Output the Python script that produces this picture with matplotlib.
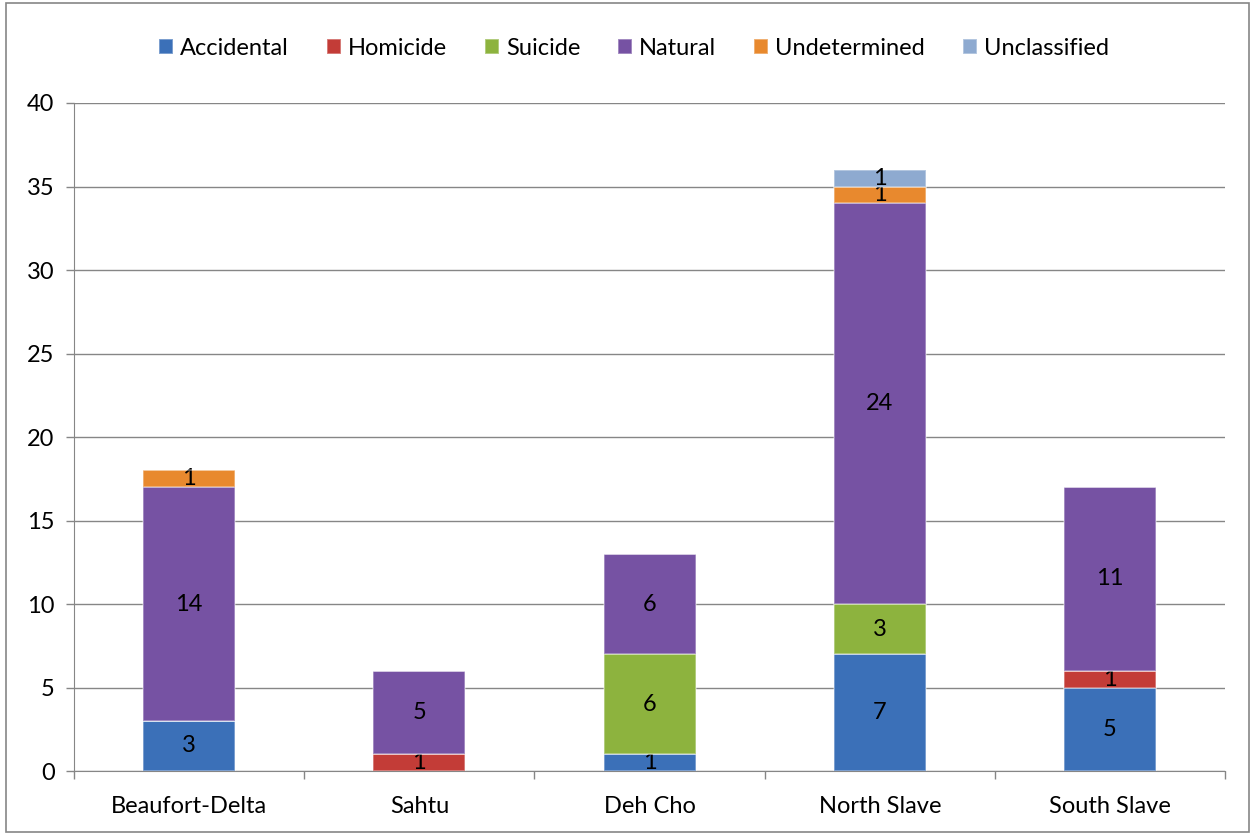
import matplotlib.pyplot as plt
import numpy as np
from matplotlib.patches import Rectangle

regions = ['Beaufort-Delta', 'Sahtu', 'Deh Cho', 'North Slave', 'South Slave']
accidental = [3, 0, 1, 7, 5]
homicide = [0, 1, 0, 0, 1]
suicide = [0, 0, 6, 3, 0]
natural = [14, 5, 6, 24, 11]
undetermined = [1, 0, 0, 1, 0]
unclassified = [0, 0, 0, 1, 0]

series = [('Accidental', accidental, '#3b70b8'),
          ('Homicide', homicide, '#c33c37'),
          ('Suicide', suicide, '#8db33e'),
          ('Natural', natural, '#7652a3'),
          ('Undetermined', undetermined, '#e8892e'),
          ('Unclassified', unclassified, '#8eaad0')]

plt.rcParams['font.family'] = ['Lato', 'DejaVu Sans']
fs = 17

fig = plt.figure(figsize=(12.53, 8.34), dpi=100)
ax = fig.add_axes([0.0591, 0.0755, 0.9186, 0.801])

x = np.arange(len(regions))
bottom = np.zeros(len(regions))
handles = []
for name, vals, col in series:
    vals = np.array(vals, dtype=float)
    bars = ax.bar(x, vals, 0.4, bottom=bottom, color=col, edgecolor='#ffffff66',
                  linewidth=1.2, zorder=3)
    labels = [str(int(v)) if v > 0 else '' for v in vals]
    ax.bar_label(bars, labels=labels, label_type='center', fontsize=fs, color='black')
    handles.append(bars)
    bottom += vals

ax.set_xlim(-0.5, len(regions) - 0.5)
ax.set_ylim(0, 40)
ax.set_yticks(np.arange(0, 41, 5))
ax.yaxis.grid(True, color='#868686', linewidth=1.0, zorder=0)
ax.set_xticks(x)
ax.set_xticklabels(regions)
ax.set_xticks(np.arange(-0.5, len(regions), 1), minor=True)
ax.tick_params(axis='x', which='major', length=0, pad=18, labelsize=fs)
ax.tick_params(axis='x', which='minor', length=6, color='#868686', width=1)
ax.tick_params(axis='y', length=6, color='#868686', width=1, labelsize=fs, pad=8)
for s in ['top', 'right']:
    ax.spines[s].set_visible(False)
for s in ['left', 'bottom']:
    ax.spines[s].set_color('#868686')

fig.legend([h[0] for h in handles], [s[0] for s in series], loc='center',
           bbox_to_anchor=(0.506, 0.942), ncol=6, frameon=False, fontsize=fs,
           handlelength=0.6, handleheight=0.6, handletextpad=0.3, columnspacing=1.6)

fig.patches.append(Rectangle((0.005, 0.002), 0.992, 0.995, transform=fig.transFigure,
                             fill=False, edgecolor='#868686', linewidth=1.2))

fig.savefig('out.png', dpi=100)
